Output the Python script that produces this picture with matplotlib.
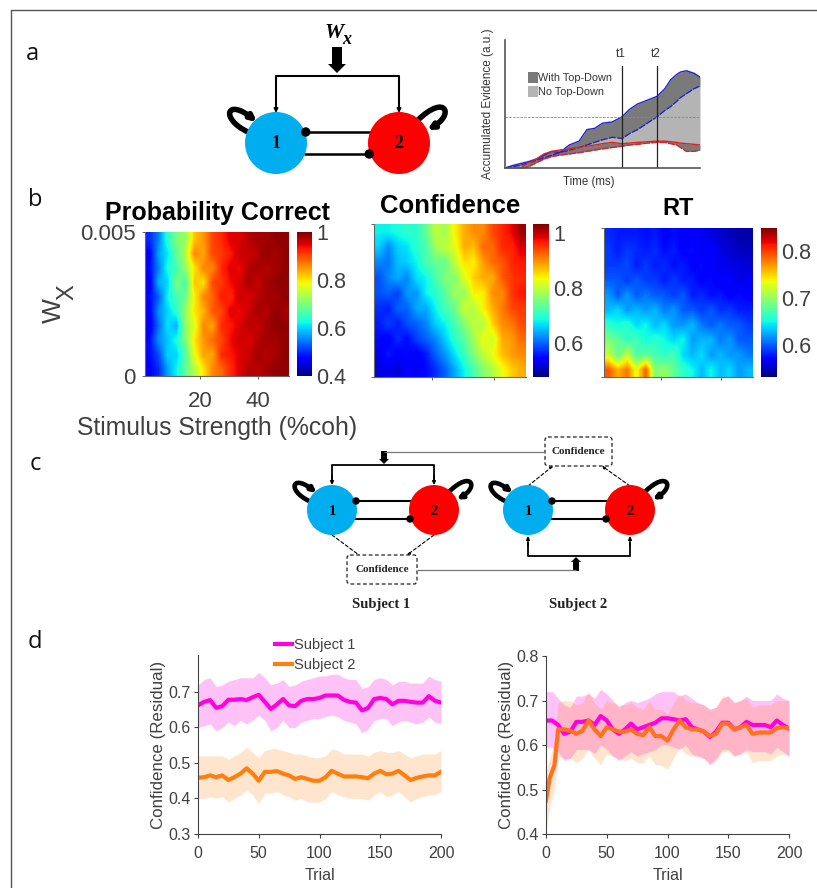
import numpy as np
import matplotlib
matplotlib.use('Agg')
import matplotlib.pyplot as plt
from matplotlib.patches import Circle, FancyArrowPatch, FancyBboxPatch, Polygon
from matplotlib.path import Path

plt.rcParams['font.family'] = 'Liberation Sans'

W, H = 817, 888
TXT = '#404040'

# ---- panel a inset, percent of axis ----
ev_x = [0, 4, 8, 12, 16, 20, 24, 28, 33, 38, 42, 46, 50, 55, 60, 64, 68, 73, 78, 82, 85, 88, 90, 93, 97, 100]
ev_top = [0, 2, 3.5, 5, 7, 10, 13, 12, 18, 21, 30, 31, 35, 36, 40, 46, 50, 53, 56, 62, 69, 73, 75, 76, 74, 71]
ev_mid = [0, 1, 2, 4, 6, 8, 10, 12, 14, 16, 18, 20, 22, 24, 23, 27, 30, 35, 40, 45, 48, 52, 55, 58, 62, 64]
ev_red_up = [-1, -1, 0, 4, 7, 11, 13, 14, 15, 16, 17, 18, 19, 20, 19, 19.5, 20, 20.5, 21, 21, 20.5, 20, 19.5, 19, 18.5, 18]
ev_red_lo = [-1, -1, -1, 1, 4, 7, 9, 10, 11, 12, 13, 14, 15, 16, 17, 18, 18.5, 19.5, 20, 20, 19, 18, 16, 13, 13, 14]
t_marks = [60, 78]
t_names = ['t1', 't2']
threshold = 40

# ---- panel b heat maps, rows go from Wx=0 up to Wx=0.005 ----
coh_lim = [1, 50.6]
wx_lim = [0, 0.005]
pc_vals = [
    [.47, .50, .57, .62, .68, .74, .80, .86, .88, .92, .95, .97, .97, .98, .99, .99],
    [.48, .52, .60, .60, .67, .78, .84, .84, .92, .93, .95, .96, .98, .97, .98, .99],
    [.48, .56, .59, .63, .70, .80, .85, .88, .90, .94, .96, .95, .97, .98, .98, .99],
    [.46, .54, .61, .58, .72, .77, .86, .84, .92, .93, .95, .97, .96, .98, .99, .99],
    [.47, .56, .60, .64, .72, .80, .83, .89, .90, .95, .94, .96, .98, .97, .99, .98],
    [.48, .53, .62, .66, .69, .79, .86, .88, .93, .92, .96, .95, .97, .98, .98, .99],
    [.46, .58, .60, .70, .66, .82, .80, .90, .91, .94, .95, .98, .96, .98, .99, .99],
    [.48, .55, .63, .66, .72, .80, .86, .86, .92, .95, .94, .97, .98, .97, .98, .99],
    [.47, .57, .61, .68, .74, .86, .84, .90, .91, .93, .96, .96, .97, .99, .98, .99],
    [.50, .55, .64, .70, .72, .82, .85, .90, .92, .95, .95, .97, .98, .98, .99, .99],
]
conf_vals = [
    [.52, .53, .52, .54, .53, .55, .57, .60, .64, .68, .72, .76, .79, .83, .86, .88],
    [.53, .56, .54, .55, .54, .56, .60, .63, .67, .71, .76, .80, .83, .87, .89, .90],
    [.55, .54, .57, .55, .58, .60, .62, .66, .70, .73, .78, .83, .81, .88, .89, .92],
    [.56, .58, .56, .59, .60, .62, .66, .68, .72, .76, .80, .79, .86, .90, .91, .94],
    [.57, .56, .60, .60, .64, .64, .68, .72, .74, .81, .79, .84, .88, .91, .94, .95],
    [.59, .60, .58, .63, .63, .68, .70, .73, .78, .77, .84, .84, .90, .90, .95, .97],
    [.59, .62, .64, .62, .67, .68, .72, .76, .76, .82, .86, .88, .88, .93, .95, .96],
    [.62, .61, .65, .66, .68, .72, .74, .74, .80, .85, .84, .89, .92, .93, .96, .97],
    [.66, .62, .66, .67, .70, .72, .78, .80, .82, .88, .87, .92, .92, .96, .96, .99],
    [.68, .68, .69, .70, .70, .74, .80, .78, .84, .88, .90, .90, .94, .96, .98, 1.02],
]
rt_vals = [
    [.79, .76, .78, .73, .79, .69, .70, .68, .66, .65, .63, .65, .63, .64, .62, .63],
    [.72, .68, .72, .67, .68, .67, .66, .67, .64, .63, .64, .62, .63, .62, .62, .61],
    [.69, .68, .66, .67, .65, .66, .65, .64, .65, .62, .63, .63, .61, .62, .60, .60],
    [.66, .65, .66, .64, .65, .63, .64, .62, .62, .63, .61, .60, .61, .60, .60, .59],
    [.63, .64, .62, .63, .62, .63, .61, .62, .60, .60, .59, .60, .585, .59, .58, .58],
    [.62, .60, .62, .60, .61, .60, .60, .59, .60, .58, .585, .575, .58, .57, .575, .57],
    [.60, .60, .59, .60, .59, .59, .58, .59, .58, .58, .57, .575, .565, .57, .56, .565],
    [.59, .59, .595, .58, .59, .58, .585, .575, .58, .57, .575, .565, .565, .56, .56, .555],
    [.59, .58, .59, .585, .58, .585, .575, .58, .57, .575, .565, .57, .56, .555, .55, .55],
    [.585, .58, .58, .58, .575, .58, .57, .575, .57, .57, .565, .56, .555, .55, .545, .545],
]
pc_range = [0.4, 1.0]
conf_range = [0.476, 1.033]
rt_range = [0.532, 0.849]
pc_ticks = [0.4, 0.6, 0.8, 1]
conf_ticks = [0.6, 0.8, 1]
rt_ticks = [0.6, 0.7, 0.8]

# ---- panel d ----
trials = np.arange(0, 201, 5)
s1_left = [.662, .672, .677, .655, .66, .678, .678, .68, .677, .685, .692, .672, .652, .665, .68, .662, .66, .675, .68, .68, .683, .69, .69, .69, .678, .672, .67, .648, .655, .68, .683, .68, .665, .675, .675, .672, .67, .67, .688, .675, .67]
s1_left_up = [.72, .735, .74, .715, .72, .73, .735, .74, .74, .74, .755, .74, .72, .725, .735, .715, .72, .73, .735, .74, .745, .745, .75, .75, .74, .735, .735, .71, .715, .735, .74, .735, .72, .73, .73, .725, .725, .725, .745, .735, .73]
s1_left_lo = [.60, .605, .61, .59, .60, .615, .605, .62, .61, .62, .635, .62, .59, .60, .62, .60, .60, .615, .62, .625, .625, .63, .635, .63, .62, .615, .61, .585, .595, .62, .625, .625, .605, .615, .62, .615, .61, .615, .63, .615, .61]
s2_left = [.458, .46, .465, .46, .465, .452, .46, .47, .485, .47, .45, .475, .475, .477, .47, .465, .455, .46, .455, .45, .45, .46, .478, .47, .462, .462, .462, .46, .457, .47, .478, .468, .47, .478, .465, .452, .458, .462, .465, .465, .475]
s2_left_up = [.52, .52, .52, .52, .52, .51, .52, .53, .545, .53, .515, .535, .54, .54, .535, .53, .525, .525, .52, .515, .515, .52, .54, .535, .525, .525, .525, .525, .52, .53, .535, .53, .53, .535, .525, .515, .52, .525, .525, .525, .535]
s2_left_lo = [.40, .40, .405, .40, .405, .39, .40, .41, .425, .41, .385, .415, .415, .42, .41, .405, .395, .40, .39, .39, .39, .40, .42, .41, .405, .40, .40, .40, .395, .41, .42, .405, .41, .42, .405, .39, .40, .405, .41, .41, .42]

s1_right = [.655, .655, .645, .625, .63, .652, .652, .655, .645, .665, .655, .635, .625, .635, .648, .635, .64, .645, .65, .66, .66, .658, .655, .658, .64, .635, .63, .618, .63, .65, .65, .635, .64, .652, .645, .645, .645, .64, .655, .645, .637]
s1_right_up = [.72, .72, .705, .69, .685, .71, .71, .715, .705, .725, .715, .70, .685, .695, .70, .695, .70, .705, .715, .72, .72, .72, .71, .715, .705, .695, .69, .68, .685, .705, .71, .695, .70, .71, .70, .70, .70, .70, .715, .705, .70]
s1_right_lo = [.595, .595, .585, .565, .57, .59, .59, .59, .58, .60, .59, .575, .565, .575, .585, .575, .58, .585, .59, .60, .60, .595, .59, .60, .58, .575, .57, .555, .57, .59, .59, .575, .58, .59, .585, .585, .585, .58, .595, .585, .575]
trials_s2_right = [0, 3, 7, 10, 15, 20, 25, 30, 35, 40, 45, 50, 55, 60, 65, 70, 75, 80, 85, 90, 95, 100, 105, 110, 115, 120, 125, 130, 135, 140, 145, 150, 155, 160, 165, 170, 175, 180, 185, 190, 195, 200]
s2_right = [.475, .525, .555, .635, .635, .632, .625, .632, .655, .635, .62, .64, .635, .63, .63, .635, .625, .622, .64, .62, .62, .61, .635, .655, .64, .635, .635, .63, .62, .625, .648, .648, .635, .64, .645, .625, .628, .628, .628, .638, .64, .637]
s2_right_up = [.54, .57, .61, .695, .70, .70, .69, .695, .72, .695, .68, .70, .695, .69, .69, .695, .685, .68, .70, .68, .68, .67, .695, .715, .70, .695, .695, .69, .68, .685, .71, .71, .695, .70, .705, .685, .69, .69, .69, .70, .70, .70]
s2_right_lo = [.41, .46, .50, .575, .57, .57, .56, .57, .59, .57, .555, .58, .575, .57, .565, .57, .56, .56, .575, .555, .555, .545, .57, .595, .58, .575, .575, .57, .56, .565, .585, .585, .575, .58, .585, .56, .565, .565, .565, .575, .58, .575]

BLUE_NODE = '#00AEEF'
RED_NODE = '#FF0000'
MAGENTA = '#FF00E0'
ORANGE = '#FF7F0E'


def axes_px(fig, left, top, right, bottom):
    return fig.add_axes([left / W, 1 - bottom / H, (right - left) / W, (bottom - top) / H])


def line(ax, xs, ys, lw=1.8, color='k', **kw):
    ax.plot(xs, ys, color=color, lw=lw, solid_capstyle='butt', **kw)


def small_arrow(ax, start, end, lw=1.2, size=6, color='k', style='-|>', ls='-'):
    ax.add_patch(FancyArrowPatch(start, end, arrowstyle=style, mutation_scale=size, lw=lw,
                                 color=color, linestyle=ls, shrinkA=0, shrinkB=0))


def block_arrow(ax, x, tail, tip, half, head, head_h):
    # head_h runs from the tip back to the tail, whichever way the arrow points
    back = tip - head_h if tip > tail else tip + head_h
    ax.add_patch(Polygon([(x - half, tail), (x + half, tail), (x + half, back),
                          (x + head, back), (x, tip), (x - head, back),
                          (x - half, back)], color='k', lw=0))


def loop(ax, cx, cy, r, side, lw):
    s = r / 31.0
    if side == 'left':
        pts = [(-28, -11), (-56, -24), (-50, -46), (-19, -21)]
    else:
        pts = [(19, -23), (47, -50), (56, -28), (28, -13)]
    verts = [(cx + p[0] * s, cy + p[1] * s) for p in pts]
    path = Path(verts, [Path.MOVETO, Path.CURVE4, Path.CURVE4, Path.CURVE4])
    ax.add_patch(FancyArrowPatch(path=path, arrowstyle='-|>', mutation_scale=7 * s + 1, lw=lw,
                                 color='k', shrinkA=0, shrinkB=0))


def node_pair(ax, x1, x2, cy, r, up, down, fs, lw, dot):
    line(ax, [x1 + r * 0.96, x2 - r * 0.9], [up, up], lw=lw)
    line(ax, [x1 + r * 0.9, x2 - r * 0.96], [down, down], lw=lw)
    ax.add_patch(Circle((x1, cy), r, color=BLUE_NODE, lw=0, zorder=3))
    ax.add_patch(Circle((x2, cy), r, color=RED_NODE, lw=0, zorder=3))
    ax.add_patch(Circle((x1 + r * 0.96, up), dot, color='k', lw=0, zorder=4))
    ax.add_patch(Circle((x2 - r * 0.96, down), dot, color='k', lw=0, zorder=4))
    ax.text(x1, cy + 1, '1', family='Liberation Serif', weight='bold', fontsize=fs, ha='center', va='center', zorder=5)
    ax.text(x2, cy + 1, '2', family='Liberation Serif', weight='bold', fontsize=fs, ha='center', va='center', zorder=5)
    loop(ax, x1, cy, r, 'left', lw * 2.2)
    loop(ax, x2, cy, r, 'right', lw * 2.2)


def conf_box(ax, left, top, right, bottom):
    ax.add_patch(FancyBboxPatch((left + 3, top + 3), right - left - 6, bottom - top - 6,
                                boxstyle='round,pad=3', fc='white', ec='#222222', lw=0.9, ls=(0, (3, 2))))
    ax.text((left + right) / 2, (top + bottom) / 2, 'Confidence', family='Liberation Serif',
            weight='bold', fontsize=8, ha='center', va='center', color='#222222')


def heat(fig, vals, vrange, ticks, box, cbox, ticklabels=False):
    ax = axes_px(fig, *box)
    im = ax.imshow(vals, origin='lower', aspect='auto', cmap='jet', vmin=vrange[0], vmax=vrange[1],
                   interpolation='bilinear', extent=[coh_lim[0], coh_lim[1], wx_lim[0], wx_lim[1]])
    ax.spines['top'].set_visible(False)
    ax.spines['right'].set_visible(False)
    ax.spines['left'].set_color('#666666')
    ax.spines['bottom'].set_color('#666666')
    ax.set_xticks([20, 40])
    ax.set_yticks(wx_lim)
    ax.tick_params(length=2, width=0.7, color='#666666', labelsize=16, labelcolor=TXT, pad=5)
    if ticklabels:
        ax.set_xticklabels(['20', '40'])
        ax.set_yticklabels(['0', '0.005'])
        ax.tick_params(axis='x', pad=9)
    else:
        ax.set_xticklabels([])
        ax.set_yticklabels([])
    cax = axes_px(fig, *cbox)
    cb = fig.colorbar(im, cax=cax, ticks=ticks)
    cb.outline.set_visible(False)
    cb.ax.tick_params(length=0, labelsize=15.5, labelcolor=TXT, pad=3)
    cb.ax.set_yticklabels([('%g' % t) for t in ticks])


def trace_axes(fig, box, ylim, yticks):
    ax = axes_px(fig, *box)
    ax.set_xlim(0, 200)
    ax.set_ylim(*ylim)
    ax.set_xticks(np.arange(0, 201, 50))
    ax.set_yticks(yticks)
    ax.set_yticklabels(['%.1f' % v for v in yticks])
    ax.spines['top'].set_visible(False)
    ax.spines['right'].set_visible(False)
    ax.spines['left'].set_color('#444444')
    ax.spines['bottom'].set_color('#444444')
    ax.tick_params(length=3, width=0.8, color='#444444', labelsize=11.5, labelcolor=TXT, pad=2)
    ax.tick_params(axis='x', pad=5.5)
    ax.set_xlabel('Trial', fontsize=11.5, color=TXT, labelpad=5)
    ax.set_ylabel('Confidence (Residual)', fontsize=12.2, color=TXT, labelpad=2)
    return ax


fig = plt.figure(figsize=(W / 100, H / 100), dpi=100)

# inset of panel a
ax_ev = axes_px(fig, 505, 40, 700, 168)
ax_ev.set_xlim(0, 100)
ax_ev.set_ylim(0, 100)
ax_ev.fill_between(ev_x, ev_mid, ev_top, color='#7a7a7a', lw=0)
ax_ev.fill_between(ev_x, ev_red_up, ev_mid, color='#b4b4b4', lw=0)
ax_ev.fill_between(ev_x, ev_red_lo, ev_red_up, color='#7a7a7a', lw=0)
ax_ev.plot(ev_x, ev_top, color='#2222cc', lw=1)
ax_ev.plot(ev_x, ev_mid, color='#2222cc', lw=1, ls=(0, (5, 1)))
ax_ev.plot(ev_x, ev_red_up, color='#e02020', lw=1)
ax_ev.plot(ev_x, ev_red_lo, color='#e02020', lw=1, ls=(0, (5, 1)))
ax_ev.axhline(threshold, color='#888888', lw=0.6, ls=(0, (3, 1.5)))
for t, name in zip(t_marks, t_names):
    ax_ev.plot([t, t], [0, 80], color='#222222', lw=0.9)
    ax_ev.text(t - 0.5, 84, name, fontsize=8.5, ha='center', va='bottom', color='#333333')
ax_ev.spines['top'].set_visible(False)
ax_ev.spines['right'].set_visible(False)
ax_ev.spines['left'].set_color('#555555')
ax_ev.spines['bottom'].set_color('#555555')
ax_ev.spines['left'].set_linewidth(1.2)
ax_ev.spines['bottom'].set_linewidth(1.2)
ax_ev.set_xticks([])
ax_ev.set_yticks([])
ax_ev.set_ylabel('Accumulated Evidence (a.u.)', fontsize=8.5, color='#333333', labelpad=8, y=0.5)
ax_ev.add_patch(plt.Rectangle((12, 66.4), 5, 8.6, color='#7a7a7a', lw=0))
ax_ev.add_patch(plt.Rectangle((12, 55.5), 5, 8.6, color='#b4b4b4', lw=0))
ax_ev.text(17, 70.5, 'With Top-Down', fontsize=7.8, va='center', color='#333333')
ax_ev.text(17, 59.5, 'No Top-Down', fontsize=7.8, va='center', color='#333333')

# panel b
heat(fig, pc_vals, pc_range, pc_ticks, (145, 232, 289, 376), (297, 232, 312, 376), ticklabels=True)
heat(fig, conf_vals, conf_range, conf_ticks, (374, 224, 526, 377), (533, 224, 549, 377))
heat(fig, rt_vals, rt_range, rt_ticks, (604, 228, 753, 377), (761, 228, 777, 377))

# panel d
ax_l = trace_axes(fig, (198, 655, 441, 834), (0.3, 0.804), [0.3, 0.4, 0.5, 0.6, 0.7])
ax_l.fill_between(trials, s1_left_lo, s1_left_up, color=MAGENTA, alpha=0.24, lw=0)
ax_l.fill_between(trials, s2_left_lo, s2_left_up, color=ORANGE, alpha=0.2, lw=0)
ax_l.plot(trials, s1_left, color=MAGENTA, lw=3, label='Subject 1')
ax_l.plot(trials, s2_left, color=ORANGE, lw=3, label='Subject 2')
ax_l.legend(loc='center', bbox_to_anchor=(315 / W, 1 - 655 / H), bbox_transform=fig.transFigure,
            frameon=False, fontsize=10.5, handlelength=1.2, handletextpad=0.1, labelspacing=0.4,
            labelcolor=TXT)

ax_r = trace_axes(fig, (546, 656, 789, 834), (0.4, 0.8), [0.4, 0.5, 0.6, 0.7, 0.8])
ax_r.fill_between(trials, s1_right_lo, s1_right_up, color=MAGENTA, alpha=0.24, lw=0)
ax_r.fill_between(trials_s2_right, s2_right_lo, s2_right_up, color=ORANGE, alpha=0.2, lw=0)
ax_r.plot(trials, s1_right, color=MAGENTA, lw=3)
ax_r.plot(trials_s2_right, s2_right, color='#FF7020', lw=3)

# everything drawn in pixel coordinates
ov = fig.add_axes([0, 0, 1, 1], zorder=10)
ov.set_xlim(0, W)
ov.set_ylim(H, 0)
ov.axis('off')
ov.patch.set_alpha(0)

# page frame
line(ov, [11.5, 11.5, W], [H, 10.5, 10.5], lw=1, color='#555555')
for letter, (lx, ly) in {'a': (32, 60), 'b': (35, 206), 'c': (35, 470), 'd': (35, 648)}.items():
    ov.text(lx, ly, letter, fontsize=17, family='Open Sans', ha='center', va='baseline', color='#111111')

# diagram a
node_pair(ov, 276, 399, 143, 31, 132, 154, 13, 1.8, 4.7)
line(ov, [276, 276, 399, 399], [110, 76, 76, 110], lw=1.5)
small_arrow(ov, (276, 100), (276, 113), size=6)
small_arrow(ov, (399, 100), (399, 113), size=6)
block_arrow(ov, 337, 47, 73, 5, 9, 9)
ov.text(334, 33, 'W', family='Liberation Serif', weight='bold', style='italic', fontsize=15.5,
        ha='center', va='center')
ov.text(347, 39, 'x', family='Liberation Serif', weight='bold', style='italic', fontsize=13,
        ha='center', va='center')
ov.text(589, 182, 'Time (ms)', fontsize=8.3, ha='center', va='center', color='#333333')

# panel b text
ov.text(217, 213, 'Probability Correct', fontsize=18, weight='bold', ha='center', va='center', color='k')
ov.text(450, 206, 'Confidence', fontsize=18.5, weight='bold', ha='center', va='center', color='k')
ov.text(678, 208, 'RT', fontsize=17, weight='bold', ha='center', va='center', color='k')
ov.text(54, 311, 'W', fontsize=19, rotation=90, ha='center', va='center', color=TXT)
ov.text(67, 292, 'X', fontsize=17, rotation=90, ha='center', va='center', color=TXT)
ov.text(217, 428, 'Stimulus Strength (%coh)', fontsize=17.8, ha='center', va='center', color=TXT)

# diagram c
node_pair(ov, 332, 434, 510, 25, 501, 519, 10.5, 1.5, 3.7)
node_pair(ov, 528, 630, 510, 25, 501, 519, 10.5, 1.5, 3.7)
line(ov, [332, 332, 434, 434], [482, 465, 465, 482], lw=1.3)
small_arrow(ov, (332, 475), (332, 485), size=5, lw=1)
small_arrow(ov, (434, 475), (434, 485), size=5, lw=1)
line(ov, [384, 545], [452, 452], lw=0.9, color='#777777')
block_arrow(ov, 384, 451, 464, 3, 5, 5)
line(ov, [528, 528, 630, 630], [542, 556, 556, 542], lw=1.3)
small_arrow(ov, (528, 546), (528, 536), size=5, lw=1)
small_arrow(ov, (630, 546), (630, 536), size=5, lw=1)
line(ov, [417, 576], [570, 570], lw=0.9, color='#777777')
block_arrow(ov, 576, 571, 557, 3, 5, 5)
dash = (0, (3, 2))
small_arrow(ov, (332, 535), (359, 555), size=4, lw=0.8, style='-', ls=dash)
small_arrow(ov, (434, 535), (407, 555), size=4, lw=0.8, ls=dash)
small_arrow(ov, (528, 486), (553, 466), size=4, lw=0.8, ls=dash)
small_arrow(ov, (630, 486), (602, 466), size=4, lw=0.8, ls=dash)
conf_box(ov, 347, 555, 417, 584)
conf_box(ov, 545, 437, 612, 466)
ov.text(381, 604, 'Subject 1', family='Liberation Serif', weight='bold', fontsize=10.5,
        ha='center', va='center', color='#222222')
ov.text(578, 604, 'Subject 2', family='Liberation Serif', weight='bold', fontsize=10.5,
        ha='center', va='center', color='#222222')

fig.savefig('out.png', dpi=100)
